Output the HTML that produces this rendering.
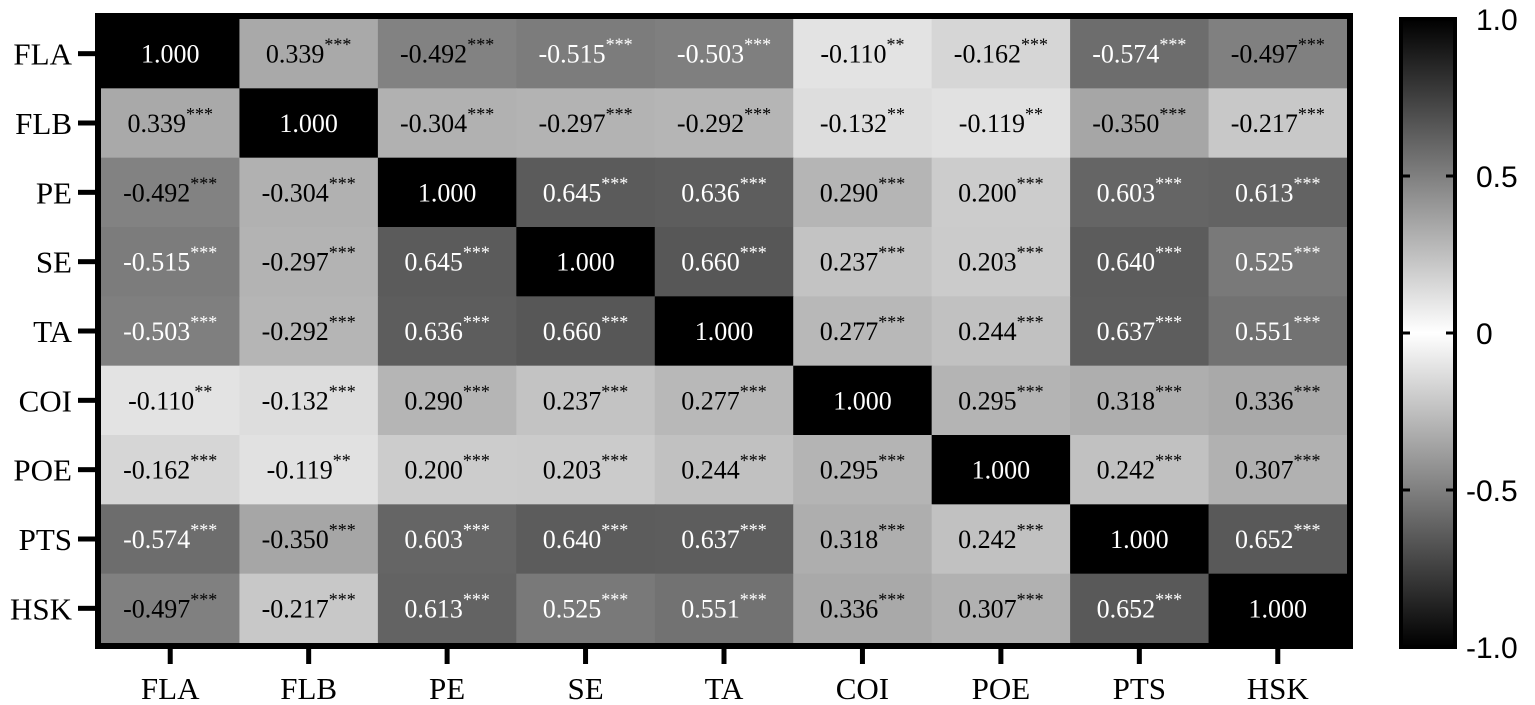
<!DOCTYPE html>
<html><head><meta charset="utf-8"><style>
html,body{margin:0;padding:0;background:#fff;width:1535px;height:705px;overflow:hidden}
svg text{font-family:"Liberation Serif",serif}
</style></head><body>
<svg id="s" width="1535" height="705" xmlns="http://www.w3.org/2000/svg">
<defs><linearGradient id="g" x1="0" y1="0" x2="0" y2="1">
<stop offset="0" stop-color="#000"/><stop offset="0.5" stop-color="#fff"/><stop offset="1" stop-color="#000"/>
</linearGradient></defs>
</svg>
<script>
const L=["FLA","FLB","PE","SE","TA","COI","POE","PTS","HSK"];
const M=[
[1,"0.339***","-0.492***","-0.515***","-0.503***","-0.110**","-0.162***","-0.574***","-0.497***"],
["0.339***",1,"-0.304***","-0.297***","-0.292***","-0.132**","-0.119**","-0.350***","-0.217***"],
["-0.492***","-0.304***",1,"0.645***","0.636***","0.290***","0.200***","0.603***","0.613***"],
["-0.515***","-0.297***","0.645***",1,"0.660***","0.237***","0.203***","0.640***","0.525***"],
["-0.503***","-0.292***","0.636***","0.660***",1,"0.277***","0.244***","0.637***","0.551***"],
["-0.110**","-0.132***","0.290***","0.237***","0.277***",1,"0.295***","0.318***","0.336***"],
["-0.162***","-0.119**","0.200***","0.203***","0.244***","0.295***",1,"0.242***","0.307***"],
["-0.574***","-0.350***","0.603***","0.640***","0.637***","0.318***","0.242***",1,"0.652***"],
["-0.497***","-0.217***","0.613***","0.525***","0.551***","0.336***","0.307***","0.652***",1]];
const x0=101,x1=1347,y0=19,y1=643,cw=(x1-x0)/9,ch=(y1-y0)/9;
let h='';
for(let r=0;r<9;r++)for(let c=0;c<9;c++){
 let s=M[r][c],num,st='';
 if(s===1){num="1.000";}else{const m=s.match(/^(-?[\d.]+)(\**)$/);num=m[1];st=m[2];}
 const v=Math.abs(parseFloat(num));const gr=Math.round(255*(1-v));
 const x=x0+c*cw,y=y0+r*ch;
 h+=`<rect x="${x}" y="${y}" width="${cw+0.6}" height="${ch+0.6}" fill="rgb(${gr},${gr},${gr})"/>`;
 const col=v>0.5?'#fff':'#000';
 h+=`<text x="${x+cw/2}" y="${y+ch/2+9}" font-size="26" fill="${col}" text-anchor="middle">${num}<tspan font-size="18" dy="-12">${st}</tspan></text>`;
}
// frame
h+=`<rect x="98" y="16" width="1252" height="630" fill="none" stroke="#000" stroke-width="6"/>`;
for(let i=0;i<9;i++){
 const y=y0+(i+0.5)*ch;
 h+=`<rect x="78" y="${y-2.5}" width="18" height="5" fill="#000"/>`;
 h+=`<text x="72" y="${y+11}" font-size="31" text-anchor="end">${L[i]}</text>`;
 const x=x0+(i+0.5)*cw;
 h+=`<rect x="${x-2.5}" y="648" width="5" height="16" fill="#000"/>`;
 h+=`<text x="${x}" y="699" font-size="31" text-anchor="middle">${L[i]}</text>`;
}
// colorbar
h+=`<rect x="1401" y="19" width="54" height="628" fill="url(#g)" stroke="#000" stroke-width="4"/>`;
const tk=[["1.0",19],["0.5",176],["0",333],["-0.5",490],["-1.0",647]];
for(const [t,y] of tk){
 if(y>20&&y<646){h+=`<rect x="1401" y="${y-1.5}" width="9" height="3"/><rect x="1446" y="${y-1.5}" width="9" height="3"/>`;}
 h+=`<text x="${t[0]=='-'?1466:1476}" y="${y+11}" font-size="30" style="font-family:'Liberation Sans',sans-serif">${t}</text>`;
}
document.getElementById('s').insertAdjacentHTML('beforeend',h);
</script>
</body></html>
